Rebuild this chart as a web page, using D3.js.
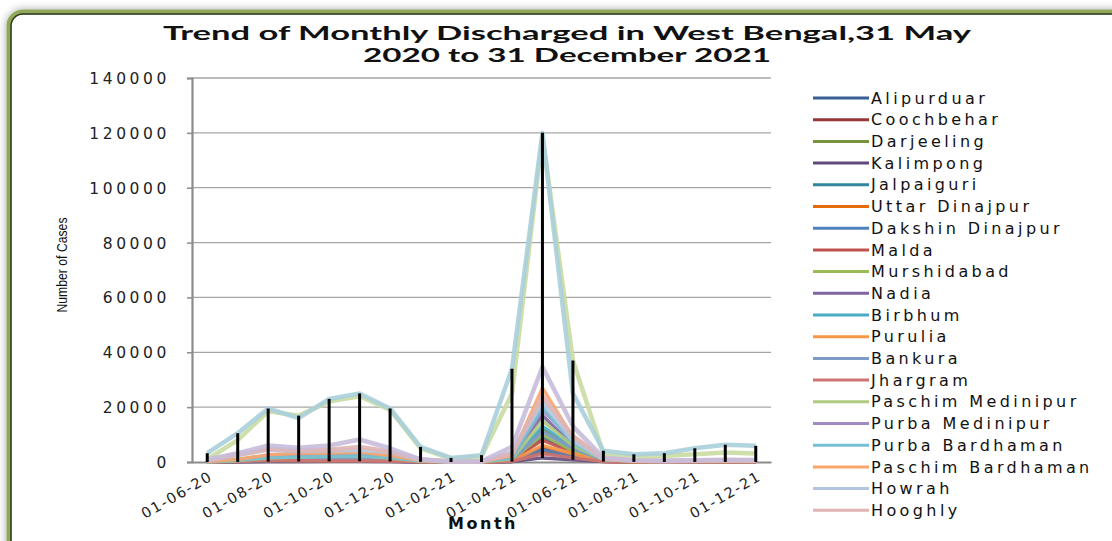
<!DOCTYPE html>
<html><head><meta charset="utf-8">
<script src="https://cdn.jsdelivr.net/npm/d3@7"></script>
<style>
html,body{margin:0;padding:0;background:#fff;}
svg{display:block;}
</style></head>
<body>
<svg id="chart" width="1112" height="541"></svg>
<script>
const months = ["01-06-20","01-07-20","01-08-20","01-09-20","01-10-20","01-11-20","01-12-20","01-01-21","01-02-21","01-03-21","01-04-21","01-05-21","01-06-21","01-07-21","01-08-21","01-09-21","01-10-21","01-11-21","01-12-21"];
const districts = ["Alipurduar","Coochbehar","Darjeeling","Kalimpong","Jalpaiguri","Uttar Dinajpur","Dakshin Dinajpur","Malda","Murshidabad","Nadia","Birbhum","Purulia","Bankura","Jhargram","Paschim Medinipur","Purba Medinipur","Purba Bardhaman","Paschim Bardhaman","Howrah","Hooghly","North 24 Parganas","South 24 Parganas","Kolkata"];
const colors = ["#3A5F95","#953735","#77933C","#604A7B","#31859C","#E46C0A","#4F81BD","#C0504D","#9BBB59","#8064A2","#4BACC6","#F79646","#7E9BC8","#CD7371","#AFCB7F","#9F8BBF","#74C0D4","#F9A66B","#B3C6E0","#E0B4B3","#C9DCA2","#C8BDDA","#AACFDA"];
const alipurduar = [50,150,300,350,300,300,250,80,20,20,200,3500,1800,300,100,60,60,60,50];
const coochbehar = [80,200,450,500,500,500,400,100,30,30,250,5000,2500,300,100,80,80,90,80];
const darjeeling = [60,300,900,1200,1800,2000,1200,300,60,60,900,12000,5000,600,200,150,200,200,150];
const kalimpong = [10,50,150,200,250,300,200,60,10,10,150,1500,800,150,60,30,30,40,30];
const jalpaiguri = [70,300,800,1000,1200,1300,900,250,60,60,600,9000,4000,500,150,120,150,160,140];
const uttarDinajpur = [100,300,500,500,550,600,500,150,40,40,300,4000,2200,300,100,80,80,80,70];
const dakshinDinajpur = [60,250,500,500,550,500,400,120,30,30,300,4500,2000,250,80,60,60,70,60];
const malda = [100,700,1400,1200,1300,1400,1000,250,50,60,700,8000,3500,400,150,120,130,140,120];
const murshidabad = [150,500,1200,1300,1400,1600,1200,300,60,80,900,10000,4000,500,200,150,160,170,150];
const nadia = [120,400,1500,1700,1900,2500,1600,400,80,100,1500,17000,6000,800,300,250,300,300,250];
const birbhum = [60,300,900,1100,1300,1500,1000,250,60,70,900,13000,5500,700,250,200,200,220,200];
const purulia = [50,400,900,800,700,800,600,150,40,40,400,6000,3000,300,100,80,90,100,80];
const bankura = [70,400,1200,1300,1300,1500,1200,300,60,70,900,11000,5000,700,250,200,220,230,200];
const jhargram = [30,200,600,500,400,400,300,80,20,20,250,3000,1500,200,60,50,50,50,50];
const paschimMedinipur = [80,500,1500,1800,2200,2400,1500,300,60,80,1100,15000,6000,900,300,250,300,300,250];
const purbaMedinipur = [150,800,2500,2800,2600,2900,2200,500,100,120,1700,19000,8000,1000,400,300,350,400,350];
const purbaBardhaman = [100,700,1600,1800,2000,2300,1600,400,80,100,1400,20000,7000,900,350,300,320,350,300];
const paschimBardhaman = [200,1000,2600,3200,3300,3600,2400,500,100,120,2300,27000,9000,1000,350,300,350,400,350];
const howrah = [600,2500,4500,4000,4200,4500,3600,800,150,200,3500,22000,8000,1200,500,400,500,600,500];
const hooghly = [500,2800,4800,4300,4500,5500,3800,900,150,200,3000,24000,9500,1300,500,400,500,650,500];
const north24Parganas = [1000,8000,18500,16900,22000,24000,19000,5000,1200,2000,25000,119000,37000,3000,2000,2200,2800,3500,3100];
const south24Parganas = [900,3200,6000,5200,6000,8200,5000,1000,200,300,5500,34700,13000,1600,600,500,600,800,700];
const kolkata = [3200,10500,19500,16000,23000,25000,19500,5500,1500,2500,34000,120000,25000,4100,2800,3200,5000,6300,5900];
const seriesValues = [alipurduar,coochbehar,darjeeling,kalimpong,jalpaiguri,uttarDinajpur,dakshinDinajpur,malda,murshidabad,nadia,birbhum,purulia,bankura,jhargram,paschimMedinipur,purbaMedinipur,purbaBardhaman,paschimBardhaman,howrah,hooghly,north24Parganas,south24Parganas,kolkata];
const yTicks = [0,20000,40000,60000,80000,100000,120000,140000];
const xTickLabels = ["01-06-20","01-08-20","01-10-20","01-12-20","01-02-21","01-04-21","01-06-21","01-08-21","01-10-21","01-12-21"];
const legendCount = 20;

const svg = d3.select("#chart");

// frame
const defs = svg.append("defs");
const f = defs.append("filter").attr("id","sh").attr("x","-5%").attr("y","-5%").attr("width","110%").attr("height","110%");
f.append("feDropShadow").attr("dx",0).attr("dy",0).attr("stdDeviation",4).attr("flood-color","#000").attr("flood-opacity",0.35);
svg.append("rect").attr("x",9).attr("y",12).attr("width",1130).attr("height",545).attr("rx",14)
  .attr("fill","#fff").attr("stroke","#8fa85a").attr("stroke-width",5).attr("filter","url(#sh)");
svg.append("rect").attr("x",11).attr("y",14).attr("width",1126).attr("height",541).attr("rx",12)
  .attr("fill","none").attr("stroke","#2d3a1c").attr("stroke-width",1.5);

const x = d3.scalePoint().domain(months).range([192,771]).padding(0.5);
const y = d3.scaleLinear().domain([0,140000]).range([462,78]);

// gridlines
svg.append("g").selectAll("line").data(yTicks.filter(d=>d>0)).join("line")
  .attr("x1",192).attr("x2",771).attr("y1",d=>y(d)).attr("y2",d=>y(d))
  .attr("stroke","#a6a6a6").attr("stroke-width",1.3);

// y axis
const yAxis = svg.append("g").attr("transform","translate(192,0)")
  .call(d3.axisLeft(y).tickValues(yTicks).tickSize(5).tickPadding(17).tickFormat(d3.format("d")));
yAxis.select(".domain").attr("stroke","#8c8c8c").attr("stroke-width",2.2);
yAxis.selectAll(".tick line").attr("stroke","#8c8c8c").attr("stroke-width",1.5);
yAxis.selectAll(".tick text").attr("font-family","DejaVu Sans").attr("font-size",15.5)
  .attr("fill","#222").attr("letter-spacing","3.6px").attr("dy","0.35em");

// x axis
const xAxis = svg.append("g").attr("transform","translate(0,462)")
  .call(d3.axisBottom(x).tickValues([]).tickSize(0));
xAxis.select(".domain").attr("stroke","#8c8c8c").attr("stroke-width",2);
svg.append("g").selectAll("text").data(xTickLabels).join("text")
  .attr("transform",d=>`translate(${x(d)+4},${475}) rotate(-30)`)
  .attr("text-anchor","end").attr("dy","0.35em")
  .attr("font-family","DejaVu Sans").attr("font-size",14.5).attr("letter-spacing","1.7px")
  .attr("fill","#222").text(d=>d);

// lines
const line = d3.line().x((d,i)=>x(months[i])).y(d=>y(d));
svg.append("g").selectAll("path").data(seriesValues).join("path")
  .attr("d",d=>line(d)).attr("fill","none")
  .attr("stroke",(d,i)=>colors[i]).attr("stroke-width",(d,i)=>i>=18?4.5:3.5)
  .attr("stroke-linejoin","round").attr("stroke-opacity",0.9);

// high-low lines
const hl = months.map((m,i)=>({m, hi:d3.max(seriesValues,s=>s[i]), lo:d3.min(seriesValues,s=>s[i])}));
svg.append("g").selectAll("line").data(hl).join("line")
  .attr("x1",d=>x(d.m)).attr("x2",d=>x(d.m)).attr("y1",d=>y(d.lo)).attr("y2",d=>y(d.hi))
  .attr("stroke","#000").attr("stroke-width",3);

// titles
svg.append("text").attr("x",567).attr("y",40).attr("text-anchor","middle").attr("font-family","Lato").attr("font-weight","bold")
  .attr("font-size",18.5).attr("fill","#111").attr("textLength",808).attr("lengthAdjust","spacingAndGlyphs")
  .text("Trend of Monthly Discharged in West Bengal,31 May");
svg.append("text").attr("x",567).attr("y",62).attr("text-anchor","middle").attr("font-family","Lato").attr("font-weight","bold")
  .attr("font-size",18.5).attr("fill","#111").attr("textLength",408).attr("lengthAdjust","spacingAndGlyphs")
  .text("2020 to 31 December 2021");

svg.append("text").attr("transform","translate(67,265) rotate(-90)").attr("text-anchor","middle")
  .attr("font-family","Liberation Sans Narrow, Liberation Sans").attr("font-size",15).attr("fill","#111")
  .attr("textLength",95).attr("lengthAdjust","spacingAndGlyphs").text("Number of Cases");
svg.append("text").attr("x",483).attr("y",529).attr("text-anchor","middle")
  .attr("font-family","DejaVu Sans").attr("font-weight","bold").attr("font-size",16).attr("letter-spacing","2.5px")
  .attr("fill","#111").text("Month");

// legend
const lg = svg.append("g").selectAll("g").data(districts.slice(0,legendCount)).join("g")
  .attr("transform",(d,i)=>`translate(813,${98+i*21.7})`);
lg.append("line").attr("x1",0).attr("x2",56).attr("stroke",(d,i)=>colors[i]).attr("stroke-width",3);
lg.append("text").attr("x",58).attr("dy","0.35em").attr("font-family","DejaVu Sans").attr("font-size",16)
  .attr("letter-spacing","3.4px").attr("fill","#111").text(d=>d);
</script>
</body></html>
